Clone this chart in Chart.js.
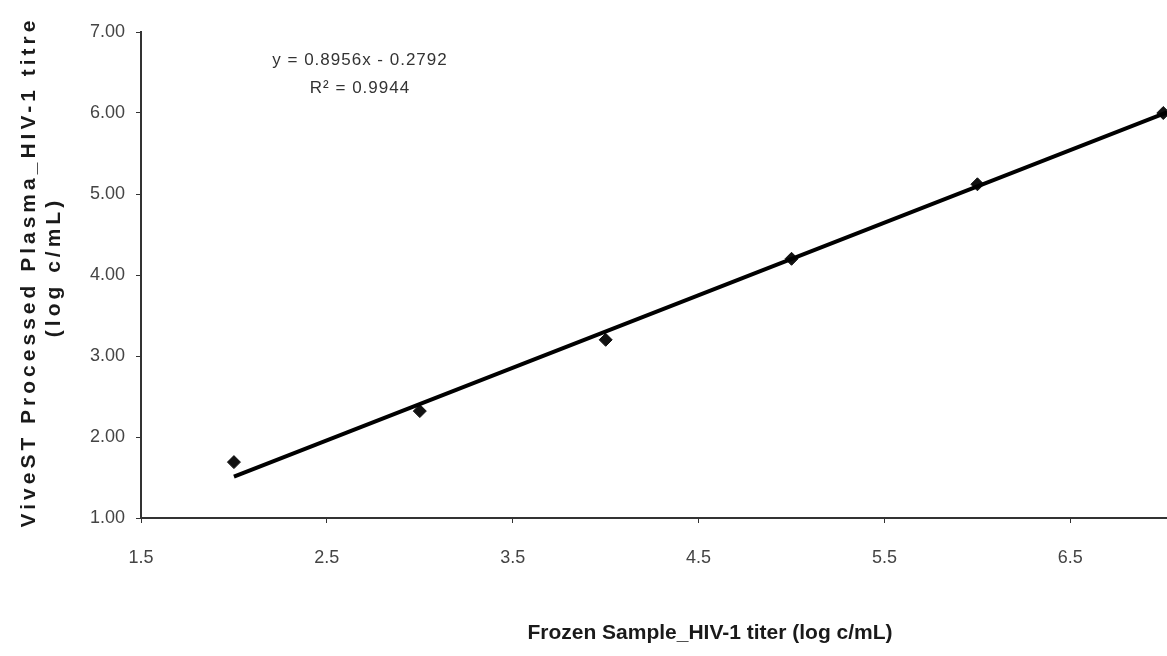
<!DOCTYPE html>
<html>
<head>
<meta charset="utf-8">
<script src="https://cdn.jsdelivr.net/npm/chart.js@4/dist/chart.umd.min.js"></script>
<style>
    html, body { margin: 0; padding: 0; background: #fff; overflow: hidden; }
    #wrap { width: 1167px; height: 656px; position: relative; }
</style>
</head>
<body>
<div id="wrap"><canvas id="titerChart"></canvas></div>
<script>
// frozen sample titer vs ViveST processed titer (log c/mL)
const frozenTiter = [2, 3, 4, 5, 6, 7];
const viveTiter = [1.69, 2.32, 3.20, 4.20, 5.12, 6.00];
const xTickValues = [1.5, 2.5, 3.5, 4.5, 5.5, 6.5];

const slope = 0.8956;
const intercept = -0.2792;
const equationText = "y = 0.8956x - 0.2792";
const r2Text = "R\u00B2 = 0.9944";

const xTitle = "Frozen Sample_HIV-1 titer (log c/mL)";
const yTitleLines = ["ViveST Processed Plasma_HIV-1 titre", "(log c/mL)"];

document.addEventListener("DOMContentLoaded", () => {

    const canvas = document.getElementById("titerChart");

    // ---------------- TEXT (titles + trendline label) ----------------

    const textPlugin = {
        id: "textPlugin",
        afterDraw(chart) {
            const ctx = chart.ctx;
            ctx.save();

            // equation box
            ctx.fillStyle = "#333";
            ctx.font = "17px 'Liberation Sans', Arial, sans-serif";
            ctx.letterSpacing = "1px";
            ctx.textAlign = "center";
            ctx.textBaseline = "middle";
            ctx.fillText(equationText, 360, 60);
            ctx.fillText(r2Text, 360, 88);

            // x title
            ctx.fillStyle = "#1a1a1a";
            ctx.font = "bold 21px 'Liberation Sans', Arial, sans-serif";
            ctx.letterSpacing = "0px";
            ctx.fillText(xTitle, 710, 633);

            // y title, two lines, rotated
            ctx.letterSpacing = "4px";
            ctx.translate(29, 272);
            ctx.rotate(-Math.PI / 2);
            ctx.fillText(yTitleLines[0], 0, 0);
            ctx.fillText(yTitleLines[1], 5, 25);

            ctx.restore();
        }
    };

    // ---------------- SCATTER + TRENDLINE ----------------

    new Chart(canvas, {
        data: {
            datasets: [{
                type: "line",
                label: "Linear fit",
                data: [2, 7.02].map(x => ({ x: x, y: slope * x + intercept })),
                borderColor: "#000",
                borderWidth: 4,
                pointRadius: 0,
                fill: false,
                clip: false
            }, {
                type: "scatter",
                label: "Samples",
                data: frozenTiter.map((x, i) => ({ x: x, y: viveTiter[i] })),
                pointStyle: "rectRot",
                pointRadius: 6.5,
                backgroundColor: "#111",
                borderColor: "#111",
                clip: false
            }]
        },
        options: {
            responsive: true,
            maintainAspectRatio: false,
            animation: false,
            layout: {
                autoPadding: false,
                padding: { top: 32, right: 0, bottom: 0, left: 0 }
            },
            plugins: {
                legend: { display: false },
                tooltip: { enabled: false }
            },
            scales: {
                x: {
                    type: "linear",
                    min: 1.5,
                    max: 7.02,
                    afterBuildTicks: scale => {
                        scale.ticks = xTickValues.map(v => ({ value: v }));
                    },
                    afterFit: scale => {
                        scale.height = 138;
                    },
                    border: { color: "#333", width: 2 },
                    grid: {
                        drawOnChartArea: false,
                        tickLength: 5,
                        color: "#333"
                    },
                    ticks: {
                        padding: 24,
                        color: "#444",
                        font: { family: "'Liberation Sans', Arial, sans-serif", size: 18 },
                        callback: v => v.toFixed(1)
                    }
                },
                y: {
                    min: 1,
                    max: 7,
                    afterFit: scale => {
                        scale.width = 141;
                    },
                    border: { color: "#333", width: 2 },
                    grid: {
                        drawOnChartArea: false,
                        tickLength: 5,
                        color: "#333"
                    },
                    ticks: {
                        stepSize: 1,
                        padding: 11,
                        color: "#444",
                        font: { family: "'Liberation Sans', Arial, sans-serif", size: 18 },
                        callback: v => v.toFixed(2)
                    }
                }
            }
        },
        plugins: [textPlugin]
    });

});
</script>
</body>
</html>
